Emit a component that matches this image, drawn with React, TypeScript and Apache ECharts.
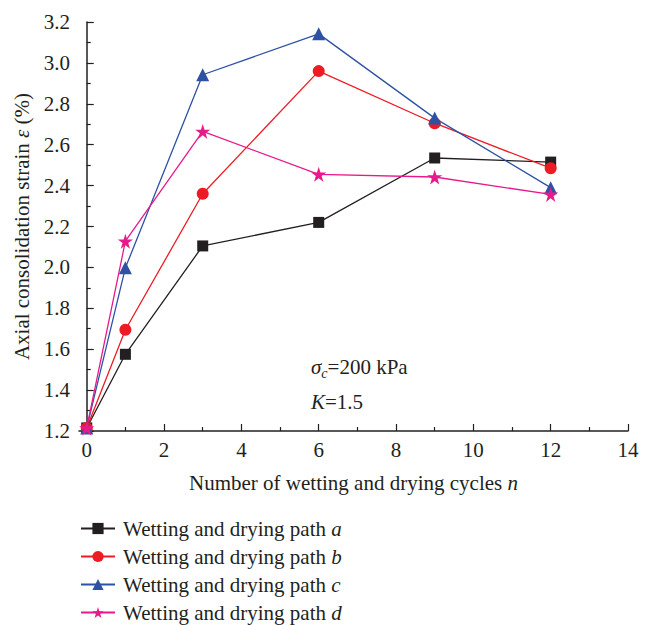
import React, { useEffect, useRef } from "react";
import * as echarts from "echarts";

const cycles = [0, 1, 3, 6, 9, 12];
const pathA = [1.215, 1.575, 2.105, 2.22, 2.535, 2.515];
const pathB = [1.215, 1.695, 2.36, 2.96, 2.705, 2.485];
const pathC = [1.215, 1.998, 2.942, 3.142, 2.73, 2.39];
const pathD = [1.215, 2.128, 2.665, 2.455, 2.442, 2.357];
const seriesLetters = ["a", "b", "c", "d"];
const xMajorTicks = [0, 2, 4, 6, 8, 10, 12, 14];
const xMinorTicks = [1, 3, 5, 7, 9, 11, 13];

const FONT = "Liberation Serif";
const FS = 21;
const TXT = "#231f20";
const STAR =
  "path://M50,0 L61.2,34.5 L97.6,34.5 L68.2,55.9 L79.4,90.5 L50,69.1 L20.6,90.5 L31.8,55.9 L2.4,34.5 L38.8,34.5 Z";

export default function App() {
  const ref = useRef<HTMLDivElement>(null);
  useEffect(() => {
    if (!ref.current) return;
    const chart = echarts.init(ref.current, null, { renderer: "svg" });
    const mk = (vals: number[]) => cycles.map((c, i) => [c, vals[i]]);
    const defs = [
      { name: "a", data: pathA, color: "#231f20", symbol: "rect", size: 11 },
      { name: "b", data: pathB, color: "#ed1c24", symbol: "circle", size: 12 },
      { name: "c", data: pathC, color: "#2e52a3", symbol: "triangle", size: 13 },
      { name: "d", data: pathD, color: "#e8198b", symbol: STAR, size: 15 },
    ];
    const italic = { fontFamily: FONT, fontSize: FS, fontStyle: "italic", color: TXT };
    chart.setOption({
      animation: false,
      textStyle: { fontFamily: FONT, color: TXT },
      grid: { left: 79, top: 22, right: 26, bottom: 194, containLabel: false },
      xAxis: [
        {
          type: "value",
          min: -0.2,
          max: 14,
          name: "Number of wetting and drying cycles {i|n}",
          nameLocation: "middle",
          nameGap: 41,
          nameTextStyle: { fontFamily: FONT, fontSize: FS, color: TXT, rich: { i: italic } },
          axisLine: { show: true, lineStyle: { color: TXT, width: 1.5 } },
          axisTick: {
            show: true,
            inside: true,
            length: 7,
            customValues: xMajorTicks,
            lineStyle: { color: TXT, width: 1.2 },
          },
          axisLabel: {
            customValues: xMajorTicks,
            fontFamily: FONT,
            fontSize: FS,
            color: TXT,
            margin: 8,
          },
          splitLine: { show: false },
        },
        {
          type: "value",
          min: -0.2,
          max: 14,
          position: "bottom",
          axisLine: { show: false },
          axisTick: {
            show: true,
            inside: true,
            length: 4,
            customValues: xMinorTicks,
            lineStyle: { color: TXT, width: 1.2 },
          },
          axisLabel: { show: false },
          splitLine: { show: false },
        },
      ],
      yAxis: {
        type: "value",
        min: 1.2,
        max: 3.2,
        interval: 0.2,
        name: "Axial consolidation strain {i|ε} (%)",
        nameLocation: "middle",
        nameGap: 47,
        nameTextStyle: { fontFamily: FONT, fontSize: FS, color: TXT, rich: { i: italic } },
        axisLine: { show: true, lineStyle: { color: TXT, width: 1.5 } },
        axisTick: { show: true, inside: true, length: 7, lineStyle: { color: TXT, width: 1.2 } },
        minorTick: { show: true, splitNumber: 2, length: 4, lineStyle: { color: TXT, width: 1.2 } },
        axisLabel: {
          fontFamily: FONT,
          fontSize: FS,
          color: TXT,
          margin: 9,
          formatter: (v: number) => v.toFixed(1),
        },
        splitLine: { show: false },
      },
      legend: {
        orient: "vertical",
        left: 80,
        top: 518,
        height: 120,
        padding: 0,
        itemWidth: 34,
        itemHeight: 14,
        itemGap: 7,
        data: seriesLetters,
        formatter: (n: string) => `Wetting and drying path {i|${n}}`,
        textStyle: {
          fontFamily: FONT,
          fontSize: FS,
          color: TXT,
          lineHeight: 20,
          padding: [0, 0, 0, 3],
          rich: { i: { ...italic, lineHeight: 20 } },
        },
      },
      graphic: [
        {
          type: "text",
          left: 311,
          top: 356,
          style: {
            text: "{s|σ}{sub|c}{n|=200 kPa}",
            fill: TXT,
            rich: {
              s: { fontFamily: FONT, fontSize: FS, fontStyle: "italic", fill: TXT, lineHeight: 28, verticalAlign: "middle" },
              sub: { fontFamily: FONT, fontSize: 14, fontStyle: "italic", fill: TXT, lineHeight: 28, verticalAlign: "bottom" },
              n: { fontFamily: FONT, fontSize: FS, fill: TXT, lineHeight: 28, verticalAlign: "middle" },
            },
          },
        },
        {
          type: "text",
          left: 311,
          top: 391,
          style: {
            text: "{k|K}{n|=1.5}",
            fill: TXT,
            rich: {
              k: { fontFamily: FONT, fontSize: FS, fontStyle: "italic", fill: TXT },
              n: { fontFamily: FONT, fontSize: FS, fill: TXT },
            },
          },
        },
      ],
      series: defs.map((d) => ({
        name: d.name,
        type: "line",
        data: mk(d.data),
        symbol: d.symbol,
        symbolSize: d.size,
        showAllSymbol: true,
        color: d.color,
        lineStyle: { color: d.color, width: 1.3 },
        itemStyle: { color: d.color },
        emphasis: { disabled: true },
      })),
    });
    return () => chart.dispose();
  }, []);
  return (
    <div
      ref={ref}
      style={{ position: "fixed", left: 0, top: 0, width: 654, height: 625, background: "#fff" }}
    />
  );
}
